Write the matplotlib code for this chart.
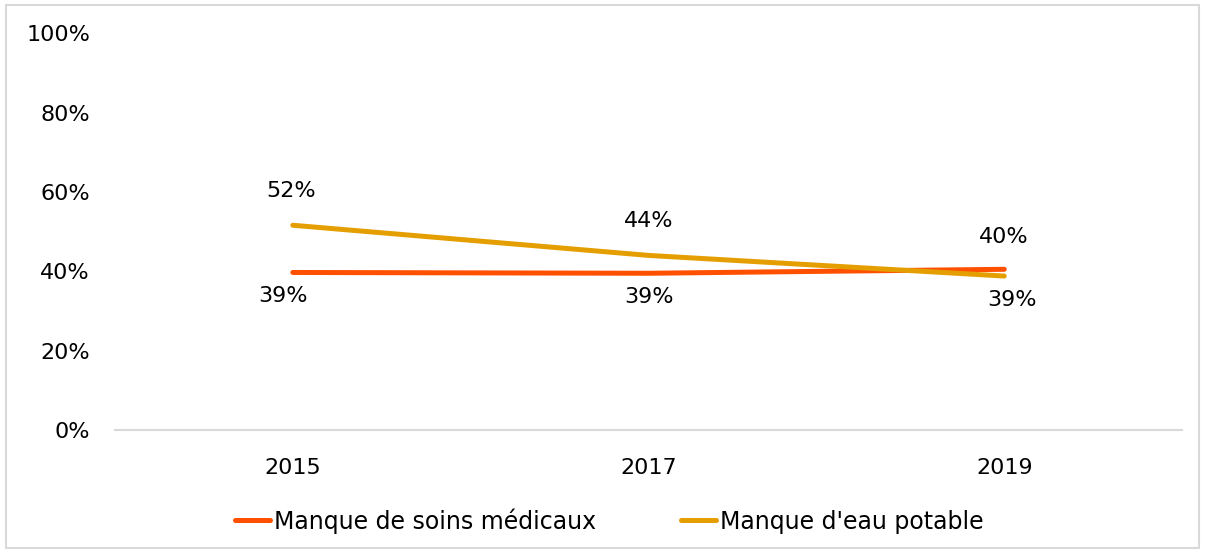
import matplotlib
matplotlib.use("Agg")
import matplotlib.pyplot as plt
from matplotlib.patches import Rectangle

years = ["2015", "2017", "2019"]
soins = [0.397, 0.395, 0.405]
eau = [0.516, 0.44, 0.388]
soins_labels = ["39%", "39%", "40%"]
eau_labels = ["52%", "44%", "39%"]
yticks = [0, 0.2, 0.4, 0.6, 0.8, 1.0]
ytick_labels = ["0%", "20%", "40%", "60%", "80%", "100%"]

c_soins = "#FF5000"
c_eau = "#E59E00"
fs = 15.5

plt.rcParams['font.family'] = ['DejaVu Sans']
fig = plt.figure(figsize=(12.05, 5.53), dpi=100)
ax = fig.add_axes([0.0954, 0.2224, 0.981 - 0.0954, 0.940 - 0.2224])

x = list(range(len(years)))
ax.plot(x, soins, color=c_soins, lw=3.6, solid_capstyle="round", label="Manque de soins médicaux", zorder=3)
ax.plot(x, eau, color=c_eau, lw=3.6, solid_capstyle="round", label="Manque d'eau potable", zorder=3)

# data labels
soins_off = [(-10, -24), (0, -24), (0, 32)]
eau_off = [(-2, 34), (0, 34), (8, -24)]
for i in x:
    ax.annotate(soins_labels[i], (i, soins[i]), xytext=soins_off[i], textcoords="offset pixels",
                ha="center", va="center", fontsize=fs + 0.5, color="#000000")
    ax.annotate(eau_labels[i], (i, eau[i]), xytext=eau_off[i], textcoords="offset pixels",
                ha="center", va="center", fontsize=fs + 0.5, color="#000000")

ax.set_xlim(-0.5, 2.5)
ax.set_ylim(0, 1.0)
ax.set_xticks(x)
ax.set_xticklabels(years, fontsize=fs + 0.5)
ax.set_yticks(yticks)
ax.set_yticklabels(ytick_labels, fontsize=fs + 0.5)
ax.tick_params(axis="both", length=0, colors="#000000")
ax.tick_params(axis="x", pad=20)
ax.tick_params(axis="y", pad=18)
for s in ["top", "right", "left"]:
    ax.spines[s].set_visible(False)
ax.spines["bottom"].set_color("#D9D9D9")
ax.spines["bottom"].set_linewidth(1.5)

leg = fig.legend(loc="center", bbox_to_anchor=(609 / 1205, 1 - 521 / 553), ncol=2, frameon=False,
                 fontsize=17, handlelength=1.5, handletextpad=0.15, columnspacing=3.6)

fig.patches.append(Rectangle((6 / 1205, 5 / 553), 1 - 12 / 1205, 1 - 10 / 553, transform=fig.transFigure,
                             fill=False, edgecolor="#D9D9D9", lw=1.5))

fig.savefig("out.png", dpi=100)
